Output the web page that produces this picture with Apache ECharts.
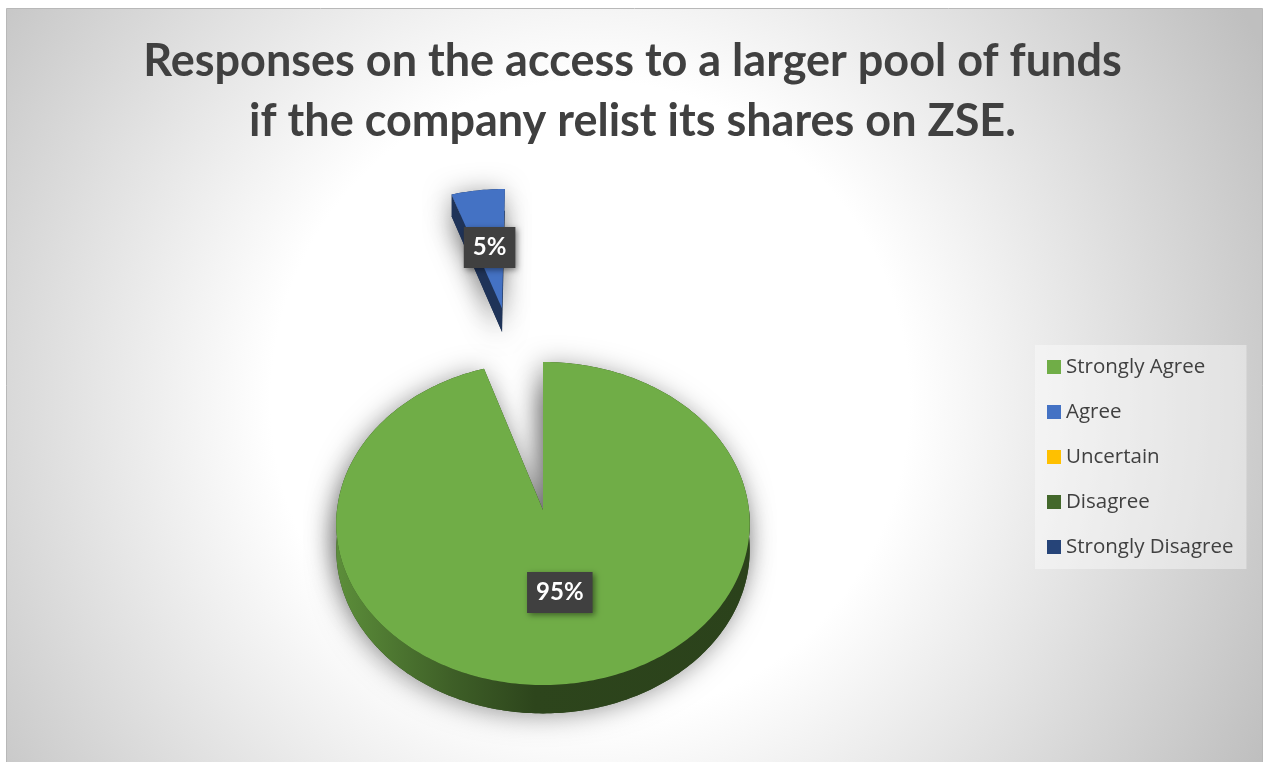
<!DOCTYPE html>
<html>
<head>
<meta charset="utf-8">
<script src="https://cdn.jsdelivr.net/npm/echarts@6/dist/echarts.min.js"></script>
<style>
  html, body { margin: 0; padding: 0; background: #ffffff; }
  #chart { width: 1265px; height: 762px; }
</style>
</head>
<body>
<div id="chart"></div>
<script>
// Survey responses (percent of respondents)
const categories = ['Strongly Agree', 'Agree', 'Uncertain', 'Disagree', 'Strongly Disagree'];
const shares = [95, 5, 0, 0, 0];
const titleLines = [
  'Responses on the access to a larger pool of funds',
  'if the company relist its shares on ZSE.'
];

// Slice colours (top faces)
const topColors = ['#70AD47', '#4472C4', '#FFC000', '#43682B', '#264478'];
// Slices pulled away from the centre, in radii
const pulledOut = { 1: 1.42 };

const total = shares.reduce((a, b) => a + b, 0);
const starts = shares.map((_, i) => shares.slice(0, i).reduce((a, b) => a + b, 0));

// 3D pie projection: u to the right, v towards the back, h = 0 top / 1 bottom
const CX = 543, CY = 510, RX = 206, RY = 160.4, PERSP = 0.0835, DEPTH = 26;
function proj(u, v, h) {
  const s = 1 / (1 + PERSP * v);
  return [CX + RX * u * s, CY - RY * v * s + DEPTH * h * s];
}

function shade(hex, k) {
  const n = parseInt(hex.slice(1), 16);
  const r = Math.round(((n >> 16) & 255) * k);
  const g = Math.round(((n >> 8) & 255) * k);
  const b = Math.round((n & 255) * k);
  return 'rgb(' + r + ',' + g + ',' + b + ')';
}

function arcPoints(P, a0, a1, h) {
  const n = Math.max(2, Math.ceil((a1 - a0) / (Math.PI / 180)));
  const pts = [];
  for (let i = 0; i <= n; i++) pts.push(P(1, a0 + (a1 - a0) * i / n, h));
  return pts;
}

function sliceRenderer(idx) {
  return function (params, api) {
    const value = api.value(0);
    if (!value) return null;
    const color = topColors[idx];
    const a0 = starts[idx] / total * Math.PI * 2;
    const a1 = a0 + value / total * Math.PI * 2;
    const mid = (a0 + a1) / 2;
    const d = pulledOut[idx] || 0;
    const ou = d * Math.sin(mid), ov = d * Math.cos(mid);
    const P = (r, a, h) => proj(ou + r * Math.sin(a), ov + r * Math.cos(a), h);

    const children = [];
    const shadowStyle = {
      shadowBlur: 26, shadowColor: 'rgba(0,0,0,0.38)', shadowOffsetX: -3, shadowOffsetY: 3
    };

    // soft drop shadow under the whole slice
    [0, 1].forEach(h => {
      children.push({
        type: 'polygon',
        shape: { points: [P(0, 0, h)].concat(arcPoints(P, a0, a1, h)) },
        style: Object.assign({ fill: shade(color, 0.4) }, shadowStyle),
        silent: true
      });
    });

    // radial cut faces that turn towards the viewer
    [[a0, Math.sin(a0) < -0.02], [a1, Math.sin(a1) > 0.02]].forEach(([a, vis]) => {
      if (!vis) return;
      children.push({
        type: 'polygon',
        shape: { points: [P(0, a, 0), P(1, a, 0), P(1, a, 1), P(0, a, 1)] },
        style: { fill: shade(color, 0.45) }
      });
    });

    // outer rim on the front half
    const lo = Math.max(a0, Math.PI / 2), hi = Math.min(a1, Math.PI * 1.5);
    if (hi > lo) {
      const pts = arcPoints(P, lo, hi, 0).concat(arcPoints(P, lo, hi, 1).reverse());
      children.push({
        type: 'polygon',
        shape: { points: pts },
        style: {
          fill: new echarts.graphic.LinearGradient(0, 0, 1, 0, [
            { offset: 0, color: shade(color, 0.82) },
            { offset: 0.28, color: shade(color, 0.55) },
            { offset: 0.48, color: shade(color, 0.40) },
            { offset: 1, color: shade(color, 0.38) }
          ])
        }
      });
    }

    // top face
    children.push({
      type: 'polygon',
      shape: { points: [P(0, 0, 0)].concat(arcPoints(P, a0, a1, 0)) },
      style: { fill: color }
    });

    // value label
    const lp = P(0.5, mid, 0);
    children.push({
      type: 'text',
      x: lp[0], y: lp[1],
      style: {
        text: Math.round(value / total * 100) + '%',
        align: 'center', verticalAlign: 'middle',
        fill: '#ffffff',
        font: 'bold 24px Lato',
        backgroundColor: '#404040',
        padding: [9, 9, 8, 9],
        shadowBlur: 6, shadowColor: 'rgba(0,0,0,0.45)', shadowOffsetX: 2, shadowOffsetY: 2
      }
    });

    return { type: 'group', children: children };
  };
}

const chart = echarts.init(document.getElementById('chart'), null, { renderer: 'canvas' });

chart.setOption({
  animation: false,
  graphic: [{
    type: 'rect',
    z: -10,
    shape: { x: 6.5, y: 8.5, width: 1256, height: 760 },
    style: {
      fill: new echarts.graphic.RadialGradient(590, 400, 760, [
        { offset: 0, color: '#ffffff' },
        { offset: 0.42, color: '#ffffff' },
        { offset: 1, color: '#bfbfbf' }
      ], true),
      stroke: '#b8b8b8', lineWidth: 1
    },
    silent: true
  }],
  title: {
    text: titleLines.join('\n'),
    left: 'center',
    top: 31,
    padding: 0,
    textStyle: {
      fontFamily: 'Lato', fontWeight: 'bold', fontSize: 45,
      color: '#404040', lineHeight: 60
    }
  },
  legend: {
    orient: 'vertical',
    left: 1035, top: 345,
    icon: 'rect',
    itemWidth: 14, itemHeight: 14, itemGap: 21,
    padding: [10, 13, 10, 12],
    backgroundColor: 'rgba(255,255,255,0.4)',
    selectedMode: false,
    textStyle: { fontFamily: 'Open Sans', fontSize: 20.5, color: '#404040', lineHeight: 24 },
    data: categories
  },
  series: categories.map((name, i) => ({
    type: 'custom',
    name: name,
    coordinateSystem: 'none',
    itemStyle: { color: topColors[i] },
    renderItem: sliceRenderer(i),
    data: [[shares[i]]]
  }))
});
</script>
</body>
</html>
